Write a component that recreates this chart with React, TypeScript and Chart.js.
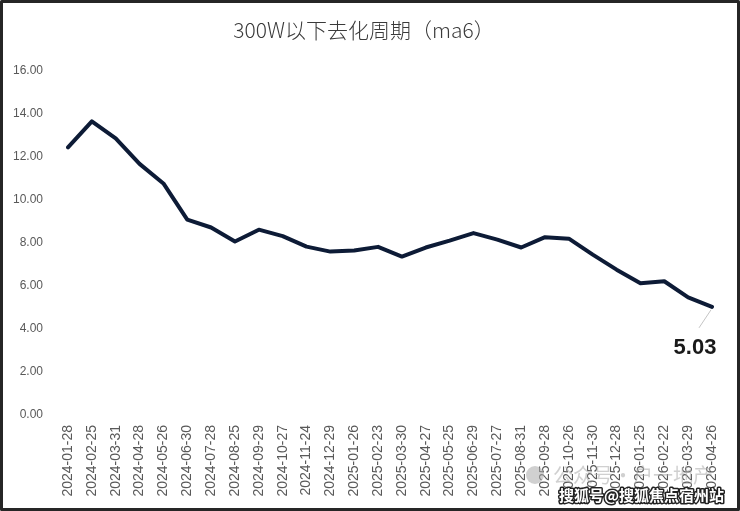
import React, { useEffect, useRef } from "react";
import { Chart, registerables } from "chart.js";

Chart.register(...registerables);

const TITLE = "300W以下去化周期（ma6）";

const categories = [
  "2024-01-28", "2024-02-25", "2024-03-31", "2024-04-28", "2024-05-26", "2024-06-30",
  "2024-07-28", "2024-08-25", "2024-09-29", "2024-10-27", "2024-11-24", "2024-12-29",
  "2025-01-26", "2025-02-23", "2025-03-30", "2025-04-27", "2025-05-25", "2025-06-29",
  "2025-07-27", "2025-08-31", "2025-09-28", "2025-10-26", "2025-11-30", "2025-12-28",
  "2026-01-25", "2026-02-22", "2026-03-29", "2026-04-26",
];

const seriesValues = [
  12.45, 13.66, 12.87, 11.68, 10.77, 9.09, 8.72, 8.07, 8.62, 8.32, 7.83, 7.6,
  7.65, 7.82, 7.37, 7.79, 8.11, 8.46, 8.16, 7.79, 8.27, 8.2, 7.46, 6.76,
  6.13, 6.22, 5.47, 5.03,
];

const yTickMin = 0;
const yTickMax = 16;
const yTickStep = 2;

const lastLabelText = "5.03";
const watermarkFaint = "公众号·户一地产";
const watermarkMain = "搜狐号@搜狐焦点宿州站";

const decorPlugin = {
  id: "decor",
  afterDatasetsDraw(chart: any) {
    const ctx = chart.ctx;
    const meta = chart.getDatasetMeta(0);
    const last = meta.data[meta.data.length - 1];
    if (!last) return;
    const x = last.x;
    const y = last.y;
    ctx.save();
    ctx.strokeStyle = "#c4c4c4";
    ctx.lineWidth = 1;
    ctx.beginPath();
    ctx.moveTo(x - 1, y + 3);
    ctx.lineTo(x - 13, y + 21);
    ctx.stroke();
    ctx.fillStyle = "#1a1a1a";
    ctx.font = "bold 22px 'Liberation Sans', Arial, sans-serif";
    ctx.textAlign = "center";
    ctx.textBaseline = "middle";
    ctx.fillText(lastLabelText, x - 17, y + 41);
    ctx.restore();
  },
  afterDraw(chart: any) {
    const ctx = chart.ctx;
    const w = chart.width;
    const h = chart.height;
    ctx.save();
    // title
    ctx.fillStyle = "#3a3a3a";
    ctx.font = "300 21px 'Noto Sans CJK SC', sans-serif";
    ctx.textAlign = "center";
    ctx.textBaseline = "middle";
    ctx.fillText(TITLE, 364, 30);
    // faint watermark
    ctx.fillStyle = "rgba(170,170,170,0.55)";
    ctx.beginPath();
    ctx.arc(535, 475, 9, 0, Math.PI * 2);
    ctx.fill();
    ctx.font = "20px 'Noto Sans CJK SC', sans-serif";
    ctx.textAlign = "left";
    ctx.fillText(watermarkFaint, 553, 475);
    // main watermark
    ctx.font = "bold 15px 'Noto Sans CJK SC', sans-serif";
    ctx.lineWidth = 3;
    ctx.strokeStyle = "#222";
    ctx.lineJoin = "round";
    ctx.strokeText(watermarkMain, 559, 495);
    ctx.fillStyle = "#ffffff";
    ctx.fillText(watermarkMain, 559, 495);
    // frame
    ctx.strokeStyle = "#262626";
    ctx.lineWidth = 3;
    ctx.strokeRect(1.5, 1.5, w - 3, h - 3);
    ctx.restore();
  },
};

export default function App() {
  const ref = useRef<HTMLCanvasElement | null>(null);

  useEffect(() => {
    document.body.style.margin = "0";
    if (!ref.current) return;
    const chart = new Chart(ref.current, {
      type: "line",
      data: {
        labels: categories,
        datasets: [
          {
            data: seriesValues,
            borderColor: "#0d1b36",
            borderWidth: 4,
            pointRadius: 0,
            tension: 0,
            borderJoinStyle: "round",
            borderCapStyle: "round",
            fill: false,
          },
        ],
      },
      options: {
        animation: false,
        responsive: false,
        maintainAspectRatio: false,
        devicePixelRatio: 1,
        layout: { padding: { left: 0, right: 28, top: 71, bottom: 0 } },
        plugins: {
          legend: { display: false },
          tooltip: { enabled: false },
          title: { display: false },
        },
        scales: {
          x: {
            type: "category",
            offset: false,
            grid: { display: false, drawTicks: false },
            border: { display: false },
            ticks: {
              autoSkip: false,
              maxRotation: 90,
              minRotation: 90,
              padding: 10,
              color: "#595959",
              font: { family: "'Liberation Sans', Arial, sans-serif", size: 14 },
            },
            afterFit(scale: any) {
              scale.height = 96;
            },
          },
          y: {
            min: yTickMin,
            max: yTickMax,
            grid: { display: false, drawTicks: false },
            border: { display: false },
            ticks: {
              stepSize: yTickStep,
              padding: 25,
              color: "#595959",
              font: { family: "'Liberation Sans', Arial, sans-serif", size: 12 },
              callback: (v: any) => Number(v).toFixed(2),
            },
            afterFit(scale: any) {
              scale.width = 68;
            },
          },
        },
      },
      plugins: [decorPlugin],
    });
    return () => chart.destroy();
  }, []);

  return (
    <div style={{ position: "fixed", left: 0, top: 0, width: 740, height: 511, background: "#fff" }}>
      <canvas ref={ref} width={740} height={511} style={{ width: 740, height: 511, display: "block" }} />
    </div>
  );
}
